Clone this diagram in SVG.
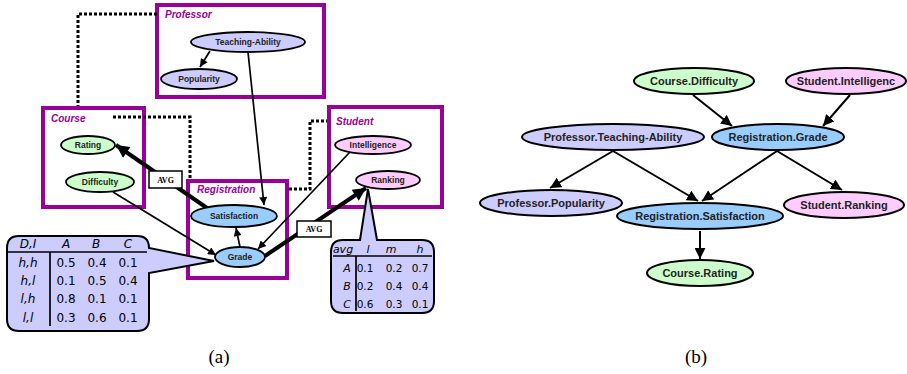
<svg xmlns="http://www.w3.org/2000/svg" width="907" height="374" viewBox="0 0 907 374">
<style>
.box{fill:none;stroke:#990099;stroke-width:4}
.blbl{font-family:"Liberation Sans",Arial,sans-serif;font-weight:bold;font-style:italic;font-size:10px;fill:#990099}
.dot{fill:none;stroke:#000;stroke-width:3;stroke-dasharray:3 2}
.ea{stroke:#000;stroke-width:1.8}
.ta{font-family:"Liberation Sans",Arial,sans-serif;font-weight:bold;font-size:8.5px;fill:#222;text-anchor:middle}
.tb{font-family:"Liberation Sans",Arial,sans-serif;font-weight:bold;font-size:11px;fill:#222;text-anchor:middle}
.eb{stroke:#000;stroke-width:2}
.thin{fill:none;stroke:#000;stroke-width:1.7}
.thick{fill:none;stroke:#000;stroke-width:4}
.ln{fill:none;stroke:#000;stroke-width:2}
.green{fill:#ccffcc}.pink{fill:#ffccff}.lav{fill:#ccccff}.blue{fill:#99ccff}
.avg{fill:#fff;stroke:#000;stroke-width:1.5}
.avgt{font-family:"Liberation Serif","Times New Roman",serif;font-weight:bold;font-size:8px;text-anchor:middle}
.call{fill:#ccccff;stroke:#000;stroke-width:2}
.th{font-family:"DejaVu Sans",sans-serif;font-style:italic;font-size:12px;text-anchor:middle}
.tv{font-family:"DejaVu Sans",sans-serif;font-size:12px;text-anchor:middle}
.th2{font-family:"DejaVu Sans",sans-serif;font-style:italic;font-size:11px;text-anchor:middle}
.tv2{font-family:"DejaVu Sans",sans-serif;font-size:10.5px;text-anchor:middle}
.cap{font-family:"Liberation Serif","Times New Roman",serif;font-size:19px;text-anchor:middle}
</style>
<defs>
<marker id="ah" viewBox="0 0 10 10" refX="10" refY="5" markerWidth="9" markerHeight="8" markerUnits="userSpaceOnUse" orient="auto"><path d="M0,0 L10,5 L0,10 z"/></marker>
<marker id="ahk" viewBox="0 0 10 10" refX="10" refY="5" markerWidth="15" markerHeight="13" markerUnits="userSpaceOnUse" orient="auto"><path d="M0,0 L10,5 L0,10 z"/></marker>
<marker id="ahb" viewBox="0 0 10 10" refX="10" refY="5" markerWidth="11" markerHeight="11" markerUnits="userSpaceOnUse" orient="auto"><path d="M0,0 L10,5 L0,10 z"/></marker>
</defs>
<rect width="907" height="374" fill="#fff"/>

<!-- (a) class boxes -->
<g id="professor-box"><rect class="box" x="157" y="5" width="167" height="92"/><text class="blbl" x="165" y="18">Professor</text></g>
<g id="course-box"><rect class="box" x="43" y="108" width="101" height="99"/><text class="blbl" x="51" y="122">Course</text></g>
<g id="registration-box"><rect class="box" x="188" y="181" width="99" height="97"/><text class="blbl" x="197" y="193">Registration</text></g>
<g id="student-box"><rect class="box" x="329" y="107" width="113" height="100"/><text class="blbl" x="336" y="125">Student</text></g>

<!-- connectors (a) -->
<g id="connectors-a">
<polyline class="dot" points="157,14 78,14 78,106"/>
<polyline class="dot" points="113,117 190,117 190,179"/>
<polyline class="dot" points="289,189 310,189 310,121 327,121"/>
<line class="thin" x1="210" y1="51" x2="200" y2="67" marker-end="url(#ah)"/>
<line class="thin" x1="248" y1="52" x2="264" y2="205" marker-end="url(#ah)"/>
<line class="thin" x1="113" y1="192" x2="216" y2="255" marker-end="url(#ah)"/>
<line class="thin" x1="350" y1="152" x2="258" y2="249" marker-end="url(#ah)"/>
<line class="thin" x1="240" y1="247" x2="236" y2="228" marker-end="url(#ah)"/>
<line class="thick" x1="207" y1="208" x2="116" y2="145" marker-end="url(#ahk)"/>
<line class="thick" x1="265" y1="256" x2="366" y2="188" marker-end="url(#ahk)"/>
</g>

<!-- callouts -->
<g id="cpt-grade">
<path class="call" d="M19,236 H137 Q149,236 149,248 L214,261 L149,273 V319 Q149,331 137,331 H19 Q7,331 7,319 V248 Q7,236 19,236 Z"/>
<line class="thin" x1="8" y1="252" x2="147" y2="252"/>
<line class="thin" x1="50" y1="252" x2="50" y2="326"/>
<text class="th" x="28" y="248">D,I</text><text class="th" x="66" y="248">A</text><text class="th" x="96" y="248">B</text><text class="th" x="128" y="248">C</text>
<text class="th" x="28" y="267">h,h</text><text class="tv" x="66" y="267">0.5</text><text class="tv" x="97" y="267">0.4</text><text class="tv" x="128" y="267">0.1</text>
<text class="th" x="28" y="285">h,l</text><text class="tv" x="66" y="285">0.1</text><text class="tv" x="97" y="285">0.5</text><text class="tv" x="128" y="285">0.4</text>
<text class="th" x="28" y="303">l,h</text><text class="tv" x="66" y="303">0.8</text><text class="tv" x="97" y="303">0.1</text><text class="tv" x="128" y="303">0.1</text>
<text class="th" x="28" y="322">l,l</text><text class="tv" x="66" y="322">0.3</text><text class="tv" x="97" y="322">0.6</text><text class="tv" x="128" y="322">0.1</text>
</g>
<g id="cpt-ranking">
<path class="call" d="M343,240 H360 L368,189 L377,240 H422 Q434,240 434,252 V301 Q434,313 422,313 H343 Q331,313 331,301 V252 Q331,240 343,240 Z"/>
<line class="thin" x1="333" y1="256" x2="432" y2="256"/>
<line class="thin" x1="356" y1="256" x2="356" y2="311"/>
<text class="th2" x="343" y="253">avg</text><text class="th2" x="368" y="253">l</text><text class="th2" x="391" y="253">m</text><text class="th2" x="420" y="253">h</text>
<text class="th2" x="347" y="272">A</text><text class="tv2" x="365" y="272">0.1</text><text class="tv2" x="394" y="272">0.2</text><text class="tv2" x="420" y="272">0.7</text>
<text class="th2" x="347" y="290">B</text><text class="tv2" x="365" y="290">0.2</text><text class="tv2" x="394" y="290">0.4</text><text class="tv2" x="420" y="290">0.4</text>
<text class="th2" x="347" y="308">C</text><text class="tv2" x="365" y="308">0.6</text><text class="tv2" x="394" y="308">0.3</text><text class="tv2" x="420" y="308">0.1</text>
</g>

<!-- (a) nodes -->
<g id="a-teaching-ability"><ellipse class="ea lav" cx="248" cy="42" rx="57" ry="10"/><text class="ta" x="248" y="45">Teaching-Ability</text></g>
<g id="a-popularity"><ellipse class="ea lav" cx="199" cy="79" rx="38" ry="10"/><text class="ta" x="199" y="82">Popularity</text></g>
<g id="a-rating"><ellipse class="ea green" cx="88" cy="145" rx="27" ry="9"/><text class="ta" x="88" y="148">Rating</text></g>
<g id="a-difficulty"><ellipse class="ea green" cx="100" cy="182" rx="34" ry="10"/><text class="ta" x="100" y="185">Difficulty</text></g>
<g id="a-satisfaction"><ellipse class="ea blue" cx="234" cy="216" rx="43" ry="11"/><text class="ta" x="234" y="219">Satisfaction</text></g>
<g id="a-grade"><ellipse class="ea blue" cx="240" cy="257" rx="25" ry="10"/><text class="ta" x="240" y="260">Grade</text></g>
<g id="a-intelligence"><ellipse class="ea pink" cx="373" cy="145" rx="38" ry="9"/><text class="ta" x="373" y="148">Intelligence</text></g>
<g id="a-ranking"><ellipse class="ea pink" cx="388" cy="180" rx="32" ry="9"/><text class="ta" x="388" y="183">Ranking</text></g>

<g id="avg-1"><rect class="avg" x="149" y="171" width="33" height="17"/><text class="avgt" x="165.5" y="183">AVG</text></g>
<g id="avg-2"><rect class="avg" x="297" y="221" width="34" height="16"/><text class="avgt" x="314" y="232">AVG</text></g>

<!-- (b) connectors -->
<g id="connectors-b">
<line class="ln" x1="693" y1="95" x2="732" y2="126" marker-end="url(#ahb)"/>
<line class="ln" x1="850" y1="95" x2="823" y2="126" marker-end="url(#ahb)"/>
<line class="ln" x1="613" y1="151" x2="550" y2="188" marker-end="url(#ahb)"/>
<line class="ln" x1="613" y1="151" x2="698" y2="201" marker-end="url(#ahb)"/>
<line class="ln" x1="777" y1="151" x2="702" y2="201" marker-end="url(#ahb)"/>
<line class="ln" x1="777" y1="151" x2="842" y2="190" marker-end="url(#ahb)"/>
<line class="ln" x1="700" y1="231" x2="700" y2="259" marker-end="url(#ahb)"/>
</g>

<!-- (b) nodes -->
<g id="b-course-difficulty"><ellipse class="eb green" cx="694" cy="81" rx="60" ry="13"/><text class="tb" x="694" y="85">Course.Difficulty</text></g>
<g id="b-student-intelligence"><ellipse class="eb pink" cx="846" cy="81" rx="60" ry="13"/><text class="tb" x="846" y="85">Student.Intelligenc</text></g>
<g id="b-teaching-ability"><ellipse class="eb lav" cx="613" cy="137" rx="91" ry="13"/><text class="tb" x="613" y="141">Professor.Teaching-Ability</text></g>
<g id="b-grade"><ellipse class="eb blue" cx="778" cy="137" rx="66" ry="13"/><text class="tb" x="778" y="141">Registration.Grade</text></g>
<g id="b-popularity"><ellipse class="eb lav" cx="551" cy="203" rx="71" ry="13"/><text class="tb" x="551" y="207">Professor.Popularity</text></g>
<g id="b-satisfaction"><ellipse class="eb blue" cx="700" cy="216" rx="83" ry="13"/><text class="tb" x="700" y="220">Registration.Satisfaction</text></g>
<g id="b-ranking"><ellipse class="eb pink" cx="844" cy="205" rx="60" ry="13"/><text class="tb" x="844" y="209">Student.Ranking</text></g>
<g id="b-rating"><ellipse class="eb green" cx="700" cy="273" rx="53" ry="13"/><text class="tb" x="700" y="277">Course.Rating</text></g>

<text class="cap" x="219" y="363">(a)</text>
<text class="cap" x="696" y="363">(b)</text>
</svg>
